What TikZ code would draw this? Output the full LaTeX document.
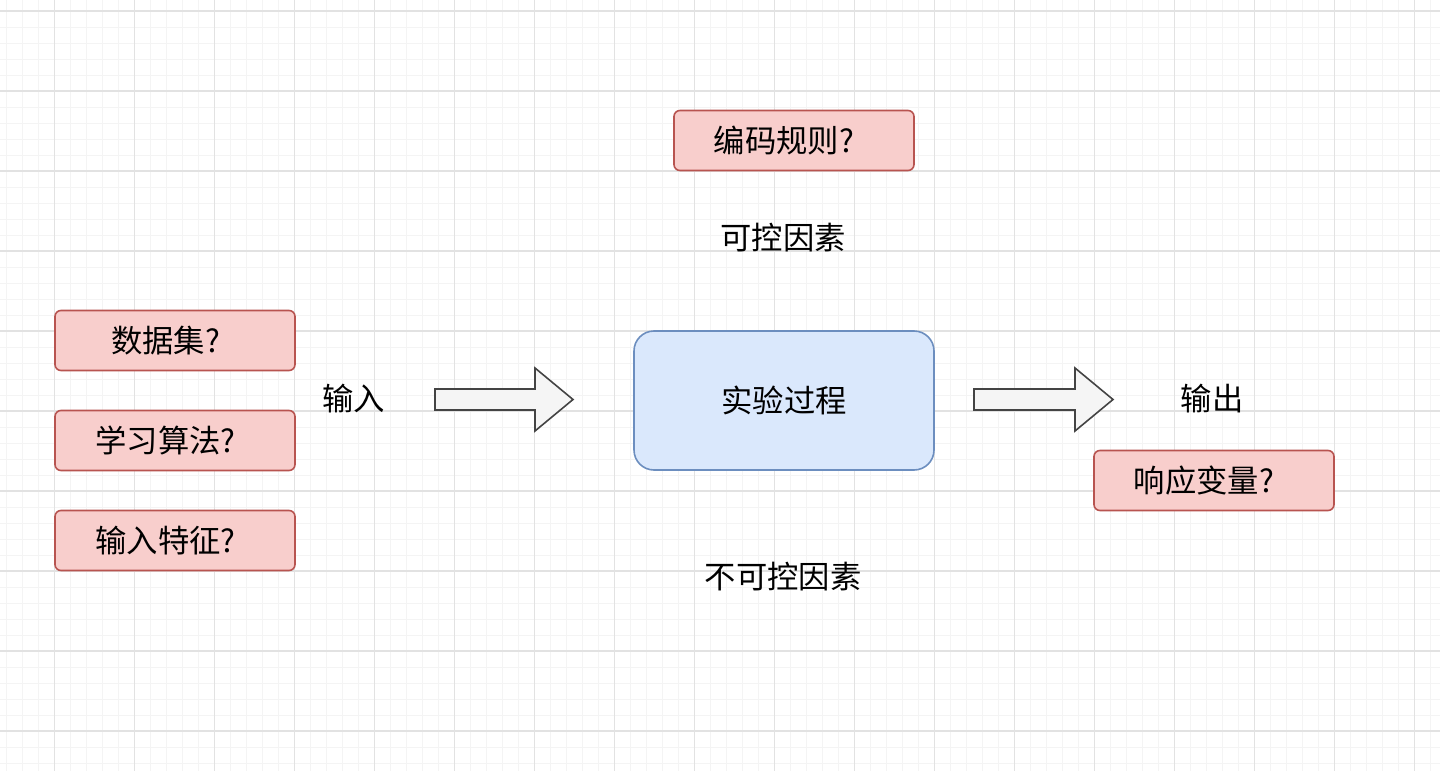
\documentclass[tikz,border=0pt]{standalone}
\usepackage{fontspec}
\setmainfont{Noto Sans CJK SC}
\definecolor{redfill}{HTML}{F8CECC}
\definecolor{redline}{HTML}{B85450}
\definecolor{bluefill}{HTML}{DAE8FC}
\definecolor{blueline}{HTML}{6C8EBF}
\definecolor{arrowfill}{HTML}{F5F5F5}
\definecolor{arrowline}{HTML}{444444}
\definecolor{gridmajor}{HTML}{E2E2E2}
\definecolor{gridminor}{HTML}{F4F4F4}
\begin{document}
\begin{tikzpicture}[x=0.75pt,y=-0.75pt,
  every node/.style={font=\fontsize{23.5}{28}\selectfont, text=black},
  redbox/.style={draw=redline, fill=redfill, line width=1.2pt, rounded corners=4.5pt,
    minimum width=180pt, minimum height=45pt, inner sep=0pt},
  bluebox/.style={draw=blueline, fill=bluefill, line width=1.2pt, rounded corners=15pt,
    minimum width=225pt, minimum height=104.25pt, inner sep=0pt},
  fatarrow/.style={draw=arrowline, fill=arrowfill, line width=1.2pt, line join=miter},
  plainlabel/.style={inner sep=0pt},
  minorline/.style={draw=gridminor, line width=0.75pt},
  majorline/.style={draw=gridmajor, line width=1pt}]
\useasboundingbox (0,0) rectangle (1440,771);
\fill[white] (0,0) rectangle (1440,771);
% grid
\foreach \x in {6.5,22.5,...,1440} \draw[minorline] (\x,0) -- (\x,771);
\foreach \y in {-5,11,...,771} \draw[minorline] (0,\y) -- (1440,\y);
\foreach \x in {54.5,134.5,...,1440} \draw[majorline] (\x,0) -- (\x,771);
\foreach \y in {11,91,...,771} \draw[majorline] (0,\y) -- (1440,\y);
% boxes
\node[redbox] (ds) at (175,340.5) {数据集?\hspace*{14pt}};
\node[redbox] (algo) at (175,440.5) {学习算法?\hspace*{14pt}};
\node[redbox] (feat) at (175,540.5) {输入特征?\hspace*{14pt}};
\node[redbox] (code) at (794,140.5) {编码规则?\hspace*{15pt}};
\node[redbox] (resp) at (1214,480.5) {响应变量?\hspace*{15pt}};
\node[bluebox] (proc) at (784,400.5) {实验过程};
% labels
\node[plainlabel] (ctrl) at (783,238) {可控因素};
\node[plainlabel] (unctrl) at (783,577) {不可控因素};
\node[plainlabel] (in) at (353.5,399) {输入};
\node[plainlabel] (out) at (1212,399) {输出};
% block arrows
\draw[fatarrow] (435,389) -- (535,389) -- (535,368) -- (573,399.5) -- (535,431) -- (535,410) -- (435,410) -- cycle;
\draw[fatarrow] (974,389) -- (1075,389) -- (1075,368) -- (1113,399.5) -- (1075,431) -- (1075,410) -- (974,410) -- cycle;
\end{tikzpicture}
\end{document}
